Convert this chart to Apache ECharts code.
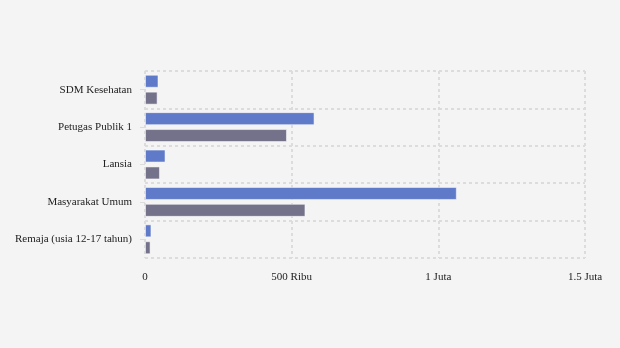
<!DOCTYPE html>
<html><head><meta charset="utf-8">
<script src="https://cdn.jsdelivr.net/npm/echarts@6/dist/echarts.min.js"></script>
<style>html,body{margin:0;padding:0;background:#f4f4f4}#c{width:620px;height:348px}</style>
</head><body><div id="c"></div>
<script>
const categories = ["SDM Kesehatan", "Petugas Publik 1", "Lansia", "Masyarakat Umum", "Remaja (usia 12-17 tahun)"];
const seriesA = [46000, 578000, 70000, 1063000, 22000];
const seriesB = [43000, 484000, 51000, 547000, 19000];
const xTicks = [0, 500000, 1000000, 1500000];
const xTickLabels = {0: "0", 500000: "500 Ribu", 1000000: "1 Juta", 1500000: "1.5 Juta"};

const chart = echarts.init(document.getElementById('c'));
const font = "'Liberation Serif', 'DejaVu Serif', serif";
chart.setOption({
  backgroundColor: '#f4f4f4',
  animation: false,
  grid: {left: 145, right: 35, top: 71, bottom: 90, containLabel: false},
  xAxis: {
    type: 'value', min: xTicks[0], max: xTicks[xTicks.length - 1], interval: 500000,
    axisLine: {show: false}, axisTick: {show: false},
    axisLabel: {formatter: v => xTickLabels[v] ?? String(v), color: '#222', fontFamily: font, fontSize: 11, margin: 14},
    splitLine: {show: true, lineStyle: {type: [3, 3], color: '#dcdcdc', width: 2}}
  },
  yAxis: {
    type: 'category', data: categories, inverse: true,
    axisLine: {show: false},
    axisTick: {show: true, alignWithLabel: true, length: 5, lineStyle: {color: '#dcdcdc'}},
    axisLabel: {color: '#222', fontFamily: font, fontSize: 11, margin: 13, padding: [2, 0, 0, 0]},
    splitLine: {show: true, lineStyle: {type: [3, 3], color: '#dcdcdc', width: 2}}
  },
  series: [
    {type: 'bar', data: seriesA, barWidth: 13, barGap: '30%',
     itemStyle: {color: '#5f7ac9', borderColor: 'rgba(255,255,255,0.5)', borderWidth: 1}},
    {type: 'bar', data: seriesB, barWidth: 13,
     itemStyle: {color: '#74728a', borderColor: 'rgba(255,255,255,0.5)', borderWidth: 1}}
  ]
});
</script></body></html>
